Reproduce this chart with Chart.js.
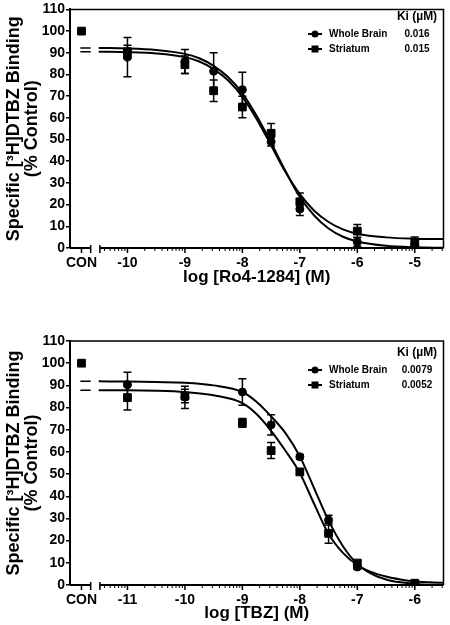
<!DOCTYPE html>
<html>
<head>
<meta charset="utf-8">
<script src="https://cdn.jsdelivr.net/npm/chart.js@4"></script>
<style>
body { margin: 0; background: #fff; }
#c1 { position: absolute; left: 0; top: 0; }
#c2 { position: absolute; left: 0; top: 310px; }
</style>
</head>
<body>
<canvas id="c1" width="450" height="300"></canvas>
<canvas id="c2" width="450" height="315"></canvas>
<script>
const seriesNames = ['Whole Brain', 'Striatum'];
const controlValue = 100;

// top panel: Ro4-1284
const roDoses = [-10, -9, -8.5, -8, -7.5, -7, -6, -5];
const roBrain = [88, 86, 81.5, 73, 49, 18, 2.8, 1.5];
const roBrainErr = [9, 5.5, 8.5, 8, 2, 3, 2, 1];
const roStriatum = [90.5, 84.5, 72.5, 65, 52.9, 21.3, 7.8, 2.4];
const roStriatumErr = [3, 4, 5, 5, 4.5, 4, 3, 2.7];
const roCurveX = [-10.5, -10, -9.5, -9, -8.75, -8.5, -8.25, -8, -7.75, -7.5, -7.25, -7, -6.75, -6.5, -6.25, -6, -5.5, -5, -4.5];
const roBrainCurve = [92.2, 92, 91.3, 89.5, 87.5, 84, 78.8, 71.3, 60.8, 48.5, 35.5, 23.5, 15, 9, 5.2, 3, 1, 0.3, 0.1];
const roStriatumCurve = [90.5, 90.3, 89.7, 88, 86, 82.5, 77.3, 69.7, 59.4, 47.3, 35, 24.8, 17.2, 12, 8.6, 6.6, 4.9, 4.3, 4.1];
const roTops = [92.2, 90.5];
const roKi = ['0.016', '0.015'];
const roTicks = [-10.8, -10, -9, -8, -7, -6, -5];

// bottom panel: TBZ
const tbzDoses = [-11, -10, -9, -8.5, -8, -7.5, -7, -6];
const tbzBrain = [90.3, 84.6, 87, 72.2, 57.8, 29.3, 8.1, 0.5];
const tbzBrainErr = [5.6, 5, 6, 4.6, 1, 2.2, 1, 0.5];
const tbzStriatum = [84.5, 85.2, 73.1, 60.6, 51, 23.3, 9.9, 0.8];
const tbzStriatumErr = [5.6, 3, 2, 3.6, 1, 4.5, 1, 0.5];
const tbzCurveX = [-11.5, -11, -10.5, -10, -9.5, -9, -8.75, -8.5, -8.25, -8, -7.75, -7.5, -7.25, -7, -6.75, -6.5, -6.25, -6, -5.5];
const tbzBrainCurve = [91.8, 91.7, 91.5, 91.2, 90, 87, 82.5, 76, 68.5, 58, 43.5, 29, 17.5, 9.5, 5, 2.5, 1.2, 0.5, 0];
const tbzStriatumCurve = [87.8, 87.8, 87.6, 87, 85.5, 82, 77, 69.5, 60.5, 50.5, 36.5, 23, 14.5, 9, 5.8, 3.8, 2.5, 1.6, 1];
const tbzTops = [91.8, 87.8];
const tbzKi = ['0.0079', '0.0052'];
const tbzTicks = [-11.8, -11, -10, -9, -8, -7, -6];

Chart.defaults.font.family = '"Liberation Sans", Arial, sans-serif';
Chart.defaults.color = '#000';

const pts = (xs, ys) => xs.map((x, i) => ({ x: x, y: ys[i] }));

const decor = {
  id: 'decor',
  afterDatasetsDraw(chart, args, opts) {
    const ctx = chart.ctx, xs = chart.scales.x, ys = chart.scales.y;
    ctx.save();
    ctx.strokeStyle = '#000';
    ctx.lineWidth = 1.5;
    chart.data.datasets.forEach(ds => {
      if (!ds.errors) return;
      ds.data.forEach((p, i) => {
        const e = ds.errors[i];
        const px = xs.getPixelForValue(p.x);
        const hi = ys.getPixelForValue(p.y + e);
        const lo = ys.getPixelForValue(Math.max(p.y - e, 0));
        ctx.beginPath();
        ctx.moveTo(px, hi); ctx.lineTo(px, lo);
        ctx.moveTo(px - 4, hi); ctx.lineTo(px + 4, hi);
        ctx.moveTo(px - 4, lo); ctx.lineTo(px + 4, lo);
        ctx.stroke();
      });
    });
    ctx.restore();
  },
  afterDraw(chart, args, opts) {
    const ctx = chart.ctx, xs = chart.scales.x, a = chart.chartArea;
    const yb = a.bottom;
    ctx.save();
    ctx.strokeStyle = '#000';
    ctx.lineWidth = 1.5;
    // frame
    ctx.beginPath();
    ctx.moveTo(a.left, a.top); ctx.lineTo(a.right, a.top); ctx.lineTo(a.right, yb);
    ctx.stroke();
    // broken x axis
    const conX = xs.getPixelForValue(opts.con);
    const conEnd = xs.getPixelForValue(opts.conEnd);
    const logStart = xs.getPixelForValue(opts.logStart);
    ctx.lineWidth = 2;
    ctx.beginPath();
    ctx.moveTo(a.left, yb); ctx.lineTo(conEnd, yb);
    ctx.moveTo(logStart, yb); ctx.lineTo(a.right, yb);
    ctx.stroke();
    ctx.lineWidth = 1.5;
    ctx.beginPath();
    ctx.moveTo(conEnd, yb - 3); ctx.lineTo(conEnd, yb + 5);
    ctx.moveTo(conX, yb); ctx.lineTo(conX, yb + 5);
    ctx.moveTo(logStart, yb - 3); ctx.lineTo(logStart, yb + 5);
    ctx.stroke();
    for (let d = Math.floor(opts.logStart); d < xs.max; d++) {
      for (let k = 1; k <= 9; k++) {
        const v = d + Math.log10(k);
        if (v < opts.logStart || v > xs.max) continue;
        const px = xs.getPixelForValue(v);
        ctx.lineWidth = k === 1 ? 1.5 : 1;
        ctx.beginPath();
        ctx.moveTo(px, yb); ctx.lineTo(px, yb + (k === 1 ? 5 : 3));
        ctx.stroke();
      }
    }
    // legend with Ki values
    const ly = opts.legendTop;
    ctx.fillStyle = '#000';
    ctx.textBaseline = 'middle';
    ctx.textAlign = 'center';
    ctx.font = 'bold 12px "Liberation Sans", Arial, sans-serif';
    ctx.fillText('Ki (µM)', 417, ly);
    ctx.font = 'bold 10px "Liberation Sans", Arial, sans-serif';
    seriesNames.forEach((name, i) => {
      const y = ly + 17 + i * 15;
      ctx.lineWidth = 2;
      ctx.beginPath(); ctx.moveTo(308, y); ctx.lineTo(322, y); ctx.stroke();
      ctx.beginPath();
      if (i === 0) ctx.arc(315, y, 3.5, 0, Math.PI * 2);
      else ctx.rect(311.5, y - 3.5, 7, 7);
      ctx.fill();
      ctx.textAlign = 'left';
      ctx.fillText(name, 329, y);
      ctx.textAlign = 'center';
      ctx.fillText(opts.ki[i], 417, y);
    });
    ctx.restore();
  }
};

function makePanel(id, p) {
  const dash = [p.min + 0.18, p.conEnd];
  new Chart(document.getElementById(id), {
    type: 'scatter',
    data: {
      datasets: [
        { data: pts(p.curveX, p.brainCurve), showLine: true, pointRadius: 0, borderColor: '#000', borderWidth: 2, cubicInterpolationMode: 'monotone' },
        { data: pts(p.curveX, p.striatumCurve), showLine: true, pointRadius: 0, borderColor: '#000', borderWidth: 2, cubicInterpolationMode: 'monotone' },
        { data: pts(dash, [p.tops[0], p.tops[0]]), showLine: true, pointRadius: 0, borderColor: '#000', borderWidth: 1.5 },
        { data: pts(dash, [p.tops[1], p.tops[1]]), showLine: true, pointRadius: 0, borderColor: '#000', borderWidth: 1.5 },
        { data: pts(p.doses, p.brain), errors: p.brainErr, pointStyle: 'circle', pointRadius: 4, backgroundColor: '#000', borderColor: '#000' },
        { data: pts(p.doses, p.striatum), errors: p.striatumErr, pointStyle: 'rect', pointRadius: 5.5, backgroundColor: '#000', borderColor: '#000' },
        { data: [{ x: p.con, y: controlValue }], pointStyle: 'rect', pointRadius: 5.5, backgroundColor: '#000', borderColor: '#000' }
      ]
    },
    options: {
      responsive: false,
      animation: false,
      layout: { padding: { top: p.padTop, right: 2, left: 0, bottom: 0 } },
      plugins: {
        legend: { display: false },
        tooltip: { enabled: false },
        decor: { con: p.con, conEnd: p.conEnd, logStart: p.logStart, legendTop: p.legendTop, ki: p.ki }
      },
      scales: {
        x: {
          type: 'linear', min: p.min, max: p.max,
          afterBuildTicks: s => { s.ticks = p.ticks.map(v => ({ value: v })); },
          afterFit: s => { s.height = p.xHeight; },
          ticks: {
            autoSkip: false, maxRotation: 0, padding: 7, color: '#000',
            font: { size: 14, weight: 'bold' },
            callback: v => Math.abs(v - p.con) < 0.01 ? 'CON' : String(v)
          },
          grid: { display: false, drawTicks: false },
          border: { display: false },
          title: { display: true, text: p.xTitle, color: '#000', font: { size: 17, weight: 'bold' }, padding: { top: 0, bottom: p.titlePad } }
        },
        y: {
          min: 0, max: 110,
          afterFit: s => { s.width = 70; },
          ticks: { stepSize: 10, padding: 1, color: '#000', font: { size: 14, weight: 'bold' } },
          grid: { display: true, drawOnChartArea: false, drawTicks: true, tickLength: 4, color: '#000', lineWidth: 1.5 },
          border: { display: true, color: '#000', width: 2 },
          title: {
            display: true, color: '#000',
            text: ['Specific [³H]DTBZ Binding', '(% Control)'],
            font: { size: 18, weight: 'bold', lineHeight: 1.0 },
            padding: { top: 5, bottom: 0 }
          }
        }
      }
    },
    plugins: [decor]
  });
}

makePanel('c1', {
  doses: roDoses, brain: roBrain, brainErr: roBrainErr, striatum: roStriatum, striatumErr: roStriatumErr,
  curveX: roCurveX, brainCurve: roBrainCurve, striatumCurve: roStriatumCurve, tops: roTops, ki: roKi,
  ticks: roTicks, con: -10.8, conEnd: -10.64, logStart: -10.48, min: -11, max: -4.5,
  xTitle: 'log [Ro4-1284] (M)', padTop: 4, xHeight: 52, titlePad: 12, legendTop: 17
});

makePanel('c2', {
  doses: tbzDoses, brain: tbzBrain, brainErr: tbzBrainErr, striatum: tbzStriatum, striatumErr: tbzStriatumErr,
  curveX: tbzCurveX, brainCurve: tbzBrainCurve, striatumCurve: tbzStriatumCurve, tops: tbzTops, ki: tbzKi,
  ticks: tbzTicks, con: -11.8, conEnd: -11.64, logStart: -11.48, min: -12, max: -5.5,
  xTitle: 'log [TBZ] (M)', padTop: 31, xHeight: 40, titlePad: 1, legendTop: 43
});
</script>
</body>
</html>
